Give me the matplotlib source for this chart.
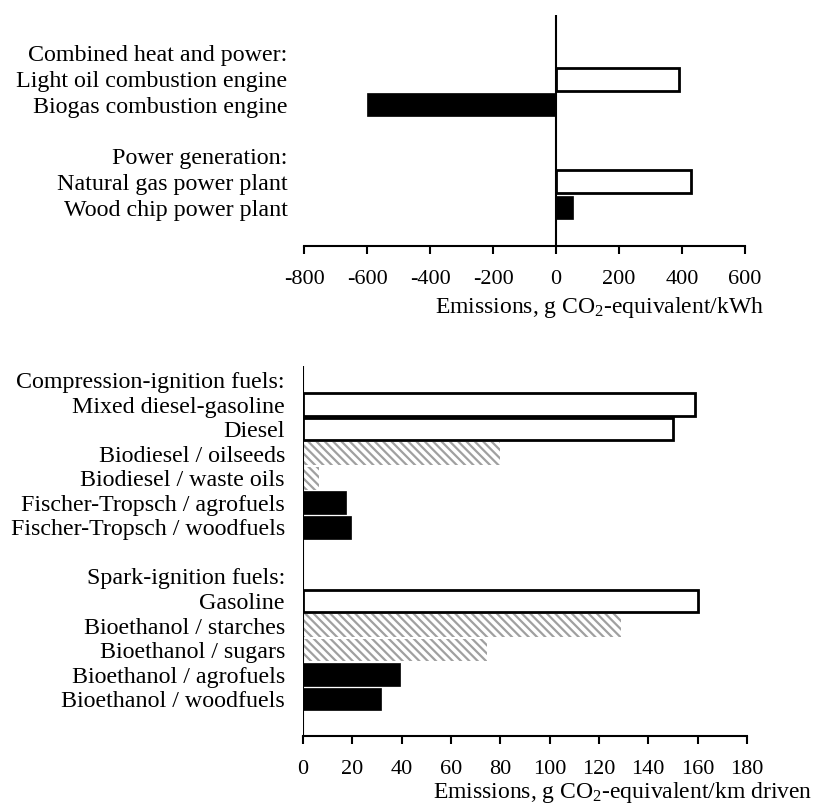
import matplotlib
matplotlib.use('Agg')
import matplotlib.pyplot as plt
import numpy as np

plt.rcParams['font.family'] = ['Liberation Serif', 'DejaVu Serif']
plt.rcParams['mathtext.fontset'] = 'custom'
plt.rcParams['mathtext.rm'] = 'Liberation Serif'
plt.rcParams['mathtext.it'] = 'Liberation Serif:italic'
plt.rcParams['hatch.linewidth'] = 1.6
plt.rcParams['hatch.color'] = '#a0a0a0'

# Data: top panel (electricity / CHP)
top_labels = ['Combined heat and power:', 'Light oil combustion engine', 'Biogas combustion engine',
              '', 'Power generation:', 'Natural gas power plant', 'Wood chip power plant']
top_values = [np.nan, 390, -600, np.nan, np.nan, 428, 55]
top_kind = [None, 'fossil', 'bio', None, None, 'fossil', 'bio']

# Data: bottom panel (transport fuels)
bot_labels = ['Compression-ignition fuels:', 'Mixed diesel-gasoline', 'Diesel',
              'Biodiesel / oilseeds', 'Biodiesel / waste oils', 'Fischer-Tropsch / agrofuels',
              'Fischer-Tropsch / woodfuels', '', 'Spark-ignition fuels:', 'Gasoline',
              'Bioethanol / starches', 'Bioethanol / sugars', 'Bioethanol / agrofuels',
              'Bioethanol / woodfuels']
bot_values = [np.nan, 159, 150, 80, 6.5, 17.5, 19.5, np.nan, np.nan, 160, 129, 74.5, 39.5, 31.5]
bot_kind = [None, 'fossil', 'fossil', 'crop', 'crop', 'bio', 'bio', None, None, 'fossil',
            'crop', 'crop', 'bio', 'bio']

top_ticks = [-800, -600, -400, -200, 0, 200, 400, 600]
bot_ticks = [0, 20, 40, 60, 80, 100, 120, 140, 160, 180]


def draw_bars(ax, values, kinds, height):
    for i, (v, k) in enumerate(zip(values, kinds)):
        if k is None or np.isnan(v):
            continue
        if k == 'fossil':
            ax.barh(i, v, height=height, color='white', edgecolor='black', linewidth=2)
        elif k == 'bio':
            ax.barh(i, v, height=height, color='black', edgecolor='black', linewidth=0.5)
        else:
            ax.barh(i, v, height=height, color='white', edgecolor='#a0a0a0', hatch='\\\\\\\\',
                    linewidth=0)


def style_axes(ax, labels, ticks, pad):
    ax.set_yticks(range(len(labels)))
    ax.set_yticklabels(labels, fontsize=17.3)
    ax.tick_params(axis='y', length=0, pad=pad)
    ax.set_xticks(ticks)
    ax.set_xticklabels([str(t) for t in ticks], fontsize=16)
    ax.tick_params(axis='x', direction='out', length=6, width=1.5, pad=11.5)
    for s in ['top', 'right', 'left']:
        ax.spines[s].set_visible(False)
    ax.spines['bottom'].set_linewidth(1.5)
    ax.axvline(0, color='black', linewidth=1.5)


fig = plt.figure(figsize=(8.13, 8.05), dpi=100)

# top panel
ax1 = fig.add_axes([0.374, 0.6944, 0.5424, 0.287])
draw_bars(ax1, top_values, top_kind, 0.9)
ax1.set_xlim(-800, 600)
ax1.set_ylim(7.5, -1.5)
style_axes(ax1, top_labels, top_ticks, 12)
ax1.text(0.67, -0.268, 'Emissions, g CO$_2$-equivalent/kWh', transform=ax1.transAxes,
         ha='center', va='center', fontsize=17)

# bottom panel
ax2 = fig.add_axes([0.3727, 0.0857, 0.546, 0.4596])
draw_bars(ax2, bot_values, bot_kind, 0.92)
ax2.set_xlim(0, 180)
ax2.set_ylim(14.5, -0.57)
style_axes(ax2, bot_labels, bot_ticks, 13)
ax2.text(1.147, -0.154, 'Emissions, g CO$_2$-equivalent/km driven', transform=ax2.transAxes,
         ha='right', va='center', fontsize=17)

fig.savefig('out.png', dpi=100)
